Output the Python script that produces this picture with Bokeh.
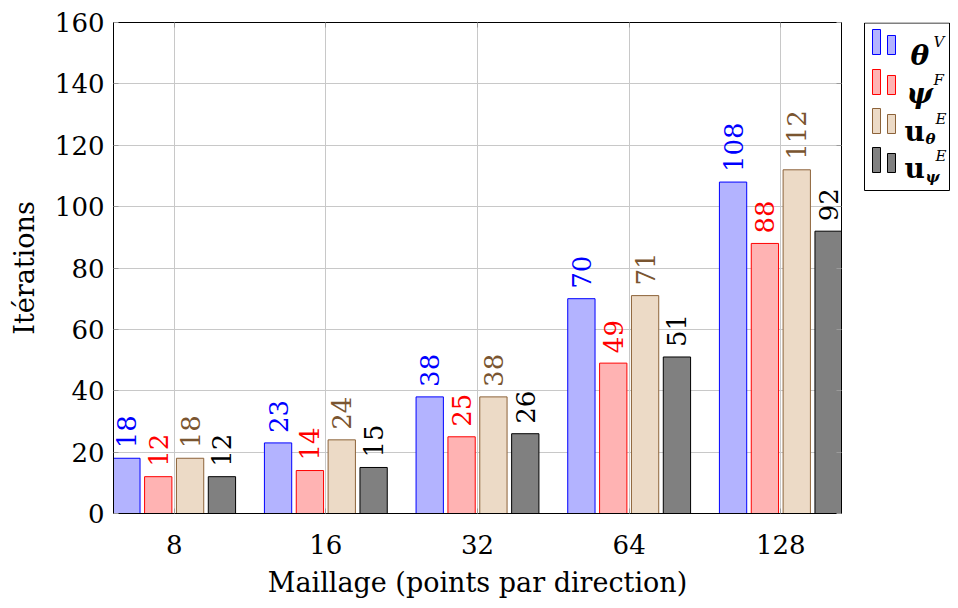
from bokeh.plotting import figure
from bokeh.models import Range1d, FixedTicker, LinearAxis, ColumnDataSource
from bokeh.layouts import row
from bokeh.embed import file_html
from bokeh.resources import INLINE
from bokeh.core.properties import value

# ---- data ----
meshes = ["8", "16", "32", "64", "128"]
theta_V = [18, 23, 38, 70, 108]
psi_F = [12, 14, 25, 49, 88]
u_theta = [18, 24, 38, 71, 112]
u_psi = [12, 15, 26, 51, 92]
y_ticks = [0, 20, 40, 60, 80, 100, 120, 140, 160]

series = [
    (theta_V, -0.315, "#b3b3ff", "#0000ff", "#0000ff"),
    (psi_F, -0.105, "#ffb3b3", "#ff0000", "#ff0000"),
    (u_theta, 0.105, "#ecdac6", "#8c6239", "#7a5530"),
    (u_psi, 0.315, "#808080", "#000000", "#000000"),
]

FONT = "DejaVu Serif"
FS = "26px"
FS_LAB = "27px"

p = figure(width=858, height=600, output_backend="svg", toolbar_location=None,
           x_range=Range1d(-0.4, 4.4), y_range=Range1d(0, 160),
           min_border_left=113, min_border_right=17, min_border_top=22, min_border_bottom=87)
p.outline_line_color = "black"
p.background_fill_color = "white"
p.border_fill_color = "white"

xs = list(range(len(meshes)))
for vals, off, fill, line, tcol in series:
    src = ColumnDataSource(dict(x=[x + off for x in xs], top=vals, lab=[str(v) for v in vals]))
    p.vbar(x="x", top="top", bottom=0, width=0.18, source=src,
           fill_color=fill, line_color=line, line_width=1)
    p.text(x="x", y="top", text="lab", source=src, angle=1.5708,
           text_align="left", text_baseline="middle", y_offset=-10, x_offset=0,
           text_font=value(FONT), text_font_size=value(FS), text_color=tcol)

p.xaxis.ticker = FixedTicker(ticks=xs)
p.xaxis.major_label_overrides = {i: m for i, m in enumerate(meshes)}
p.yaxis.ticker = FixedTicker(ticks=y_ticks)
p.xgrid.ticker = FixedTicker(ticks=xs)
p.ygrid.ticker = FixedTicker(ticks=y_ticks)
p.grid.grid_line_color = "#c8c8c8"
p.grid.grid_line_width = 1

for ax in (p.xaxis[0], p.yaxis[0]):
    ax.major_tick_in = 5
    ax.major_tick_out = 0
    ax.minor_tick_line_color = None
    ax.major_tick_line_color = "#9a9a9a"
    ax.axis_line_color = "black"
    ax.major_label_text_font = FONT
    ax.major_label_text_font_size = FS
    ax.major_label_text_color = "black"
    ax.axis_label_text_font = FONT
    ax.axis_label_text_font_size = FS_LAB
    ax.axis_label_text_font_style = "normal"
    ax.axis_label_text_color = "black"

p.xaxis.axis_label = "Maillage (points par direction)"
p.yaxis.axis_label = "Itérations"
p.xaxis.major_label_standoff = 21
p.yaxis.major_label_standoff = 9
p.xaxis.axis_label_standoff = 10
p.yaxis.axis_label_standoff = 12

top_ax = LinearAxis(ticker=FixedTicker(ticks=xs), major_label_text_font_size="0px",
                    major_tick_in=5, major_tick_out=0, minor_tick_line_color=None,
                    major_tick_line_color="#9a9a9a", axis_line_color="black")
right_ax = LinearAxis(ticker=FixedTicker(ticks=y_ticks), major_label_text_font_size="0px",
                      major_tick_in=5, major_tick_out=0, minor_tick_line_color=None,
                      major_tick_line_color="#9a9a9a", axis_line_color="black")
p.add_layout(top_ax, "above")
p.add_layout(right_ax, "right")

# ---- legend as a separate small figure (its frame is aligned with the main frame) ----
LW = 92
FH = 491  # frame height shared with the main plot (image y = 22 + v)
lg = figure(width=LW, height=600, output_backend="svg", toolbar_location=None,
            x_range=Range1d(0, LW), y_range=Range1d(FH, 0),
            min_border=0, min_border_left=0, min_border_right=0,
            min_border_top=22, min_border_bottom=87)
lg.axis.visible = False
lg.grid.visible = False
lg.outline_line_color = None
lg.background_fill_color = "white"
lg.quad(left=[6], right=[91], top=[0.5], bottom=[168], fill_color="white",
        line_color="black", line_width=1)

rows_b = [32, 72, 111, 150]
for (vals, off, fill, line, tcol), yb in zip(series, rows_b):
    lg.quad(left=[14, 29], right=[22, 37], top=[yb - 25, yb - 19], bottom=[yb, yb],
            fill_color=fill, line_color=line)

def t(x, y, s, size, style="normal", font="DejaVu Serif"):
    lg.text(x=[x], y=[y], text=[s], text_font=value(font), text_font_size=value(size),
            text_font_style=style, text_baseline="alphabetic", text_align="left",
            text_color="black")

# theta^V
t(52, 33, "θ", "28px", "bold italic")
t(75, 19, "V", "15px", "italic")
# psi^F
t(48, 71, "ψ", "28px", "bold italic")
t(75, 57, "F", "15px", "italic")
# u_theta^E
t(46, 109, "u", "28px", "bold")
t(67, 116, "θ", "15px", "bold italic")
t(77, 96, "E", "15px", "italic")
# u_psi^E
t(46, 146, "u", "28px", "bold")
t(67, 154, "ψ", "15px", "bold italic")
t(77, 133, "E", "15px", "italic")

layout = row(p, lg)
open("out.html", "w").write(file_html(layout, INLINE))
